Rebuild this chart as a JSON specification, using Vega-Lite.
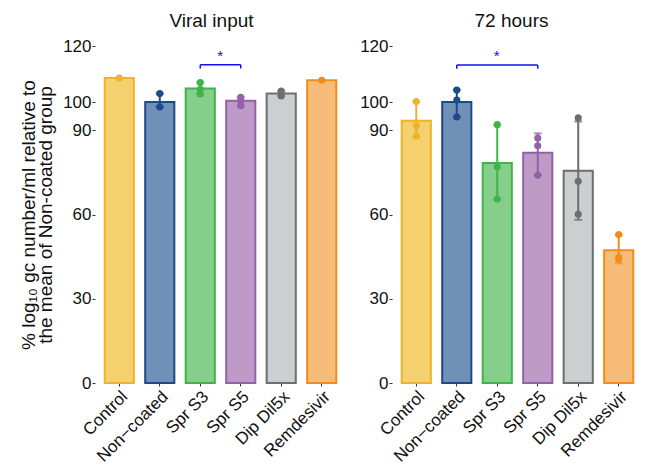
{
  "$schema": "https://vega.github.io/schema/vega-lite/v6.json",
  "background": "white",
  "padding": {"left": 19, "top": 12, "right": 0, "bottom": 0},
  "config": {
    "view": {"stroke": null},
    "font": "Liberation Sans",
    "concat": {"spacing": 13},
    "axis": {"grid": false, "domain": false, "tickColor": "#333333", "tickSize": 3, "labelColor": "#111111", "titleColor": "#111111"}
  },
  "datasets": {
    "bars": [
      {"panel": "Viral input", "group": "Control", "mean": 108.6, "lo": null, "hi": null},
      {"panel": "Viral input", "group": "Non−coated", "mean": 100.1, "lo": 98.3, "hi": 103.1},
      {"panel": "Viral input", "group": "Spr S3", "mean": 104.9, "lo": 102.9, "hi": 107.0},
      {"panel": "Viral input", "group": "Spr S5", "mean": 100.5, "lo": 98.7, "hi": 101.7},
      {"panel": "Viral input", "group": "Dip Dil5x", "mean": 103.1, "lo": 102.2, "hi": 104.0},
      {"panel": "Viral input", "group": "Remdesivir", "mean": 107.8, "lo": null, "hi": null},
      {"panel": "72 hours", "group": "Control", "mean": 93.4, "lo": 87.6, "hi": 100.2},
      {"panel": "72 hours", "group": "Non−coated", "mean": 100.1, "lo": 94.7, "hi": 104.4},
      {"panel": "72 hours", "group": "Spr S3", "mean": 78.3, "lo": 65.3, "hi": 92.0},
      {"panel": "72 hours", "group": "Spr S5", "mean": 82.0, "lo": 74.0, "hi": 88.9},
      {"panel": "72 hours", "group": "Dip Dil5x", "mean": 75.6, "lo": 58.1, "hi": 93.1},
      {"panel": "72 hours", "group": "Remdesivir", "mean": 47.3, "lo": 42.6, "hi": 52.6}
    ],
    "points": [
      {"panel": "Viral input", "group": "Control", "value": 108.6},
      {"panel": "Viral input", "group": "Non−coated", "value": 103.1},
      {"panel": "Viral input", "group": "Non−coated", "value": 98.3},
      {"panel": "Viral input", "group": "Spr S3", "value": 107.0},
      {"panel": "Viral input", "group": "Spr S3", "value": 104.6},
      {"panel": "Viral input", "group": "Spr S3", "value": 102.9},
      {"panel": "Viral input", "group": "Spr S5", "value": 101.7},
      {"panel": "Viral input", "group": "Spr S5", "value": 100.4},
      {"panel": "Viral input", "group": "Spr S5", "value": 98.7},
      {"panel": "Viral input", "group": "Dip Dil5x", "value": 104.0},
      {"panel": "Viral input", "group": "Dip Dil5x", "value": 102.2},
      {"panel": "Viral input", "group": "Remdesivir", "value": 107.8},
      {"panel": "72 hours", "group": "Control", "value": 100.2},
      {"panel": "72 hours", "group": "Control", "value": 91.6},
      {"panel": "72 hours", "group": "Control", "value": 87.9},
      {"panel": "72 hours", "group": "Non−coated", "value": 104.3},
      {"panel": "72 hours", "group": "Non−coated", "value": 100.8},
      {"panel": "72 hours", "group": "Non−coated", "value": 94.7},
      {"panel": "72 hours", "group": "Spr S3", "value": 92.0},
      {"panel": "72 hours", "group": "Spr S3", "value": 77.0},
      {"panel": "72 hours", "group": "Spr S3", "value": 65.5},
      {"panel": "72 hours", "group": "Spr S5", "value": 87.2},
      {"panel": "72 hours", "group": "Spr S5", "value": 84.5},
      {"panel": "72 hours", "group": "Spr S5", "value": 74.0},
      {"panel": "72 hours", "group": "Dip Dil5x", "value": 94.4},
      {"panel": "72 hours", "group": "Dip Dil5x", "value": 71.8},
      {"panel": "72 hours", "group": "Dip Dil5x", "value": 60.1},
      {"panel": "72 hours", "group": "Remdesivir", "value": 52.9},
      {"panel": "72 hours", "group": "Remdesivir", "value": 44.7},
      {"panel": "72 hours", "group": "Remdesivir", "value": 44.1}
    ],
    "sig": [
      {"panel": "Viral input", "from": "Spr S3", "to": "Spr S5", "y": 113.3, "ytick": 112.0, "ystar": 116.3, "label": "*"},
      {"panel": "72 hours", "from": "Non−coated", "to": "Spr S5", "y": 113.2, "ytick": 111.9, "ystar": 116.3, "label": "*"}
    ]
  },
  "hconcat": [
    {
      "width": 251, "height": 337,
      "title": {"text": "Viral input", "fontSize": 19, "fontWeight": "normal", "offset": 6, "dx": -9, "color": "#111111"},
      "layer": [
        {
          "data": {"name": "bars"},
          "transform": [{"filter": "datum.panel === 'Viral input'"}],
          "mark": {"type": "bar", "strokeWidth": 2},
          "encoding": {
            "x": {"field": "group", "type": "nominal", "title": null,
                  "scale": {"domain": ["Control", "Non−coated", "Spr S3", "Spr S5", "Dip Dil5x", "Remdesivir"], "paddingInner": 0.28, "paddingOuter": 0.24},
                  "axis": {"title": null, "labelAngle": -45, "labelAlign": "right", "labelBaseline": "top", "labelFontSize": 17, "labelPadding": 2}},
            "y": {"field": "mean", "type": "quantitative", "scale": {"domain": [0, 120], "nice": false},
                  "title": ["% log₁₀ gc number/ml relative to", "the mean of Non-coated group"],
                  "axis": {"values": [0, 30, 60, 90, 100, 120], "labelFontSize": 17, "labelPadding": 1, "titleFontSize": 19, "titleFontWeight": "normal", "titlePadding": 7, "titleLineHeight": 17}},
            "fill": {"field": "group", "type": "nominal", "legend": null,
                     "scale": {"domain": ["Control", "Non−coated", "Spr S3", "Spr S5", "Dip Dil5x", "Remdesivir"], "range": ["#F4D06F", "#7090B7", "#86CF8A", "#BD9BC6", "#CBCFCF", "#F8BC79"]}},
            "stroke": {"field": "group", "type": "nominal", "legend": null,
                       "scale": {"domain": ["Control", "Non−coated", "Spr S3", "Spr S5", "Dip Dil5x", "Remdesivir"], "range": ["#EFB22B", "#1D4A8A", "#3EB44A", "#9361A7", "#6B6F70", "#F38C1C"]}}
          }
        },
        {
          "data": {"name": "bars"},
          "transform": [{"filter": "datum.panel === 'Viral input' && datum.lo != null"}],
          "mark": {"type": "rule", "strokeWidth": 2},
          "encoding": {
            "x": {"field": "group", "type": "nominal", "title": null},
            "y": {"field": "lo", "type": "quantitative", "title": ["% log₁₀ gc number/ml relative to", "the mean of Non-coated group"]},
            "y2": {"field": "hi"},
            "color": {"field": "group", "type": "nominal", "legend": null,
                      "scale": {"domain": ["Control", "Non−coated", "Spr S3", "Spr S5", "Dip Dil5x", "Remdesivir"], "range": ["#EFB22B", "#1D4A8A", "#3EB44A", "#9361A7", "#6B6F70", "#F38C1C"]}}
          }
        },
        {
          "data": {"name": "bars"},
          "transform": [{"filter": "datum.panel === 'Viral input' && datum.lo != null"}, {"fold": ["lo", "hi"], "as": ["end", "cap"]}],
          "mark": {"type": "tick", "thickness": 2, "size": 8},
          "encoding": {
            "x": {"field": "group", "type": "nominal", "title": null},
            "y": {"field": "cap", "type": "quantitative", "title": ["% log₁₀ gc number/ml relative to", "the mean of Non-coated group"]},
            "color": {"field": "group", "type": "nominal", "legend": null,
                      "scale": {"domain": ["Control", "Non−coated", "Spr S3", "Spr S5", "Dip Dil5x", "Remdesivir"], "range": ["#EFB22B", "#1D4A8A", "#3EB44A", "#9361A7", "#6B6F70", "#F38C1C"]}}
          }
        },
        {
          "data": {"name": "points"},
          "transform": [{"filter": "datum.panel === 'Viral input'"}],
          "mark": {"type": "circle", "size": 50, "opacity": 1},
          "encoding": {
            "x": {"field": "group", "type": "nominal", "title": null},
            "y": {"field": "value", "type": "quantitative", "title": ["% log₁₀ gc number/ml relative to", "the mean of Non-coated group"]},
            "color": {"field": "group", "type": "nominal", "legend": null,
                      "scale": {"domain": ["Control", "Non−coated", "Spr S3", "Spr S5", "Dip Dil5x", "Remdesivir"], "range": ["#EFB22B", "#1D4A8A", "#3EB44A", "#9361A7", "#6B6F70", "#F38C1C"]}}
          }
        },
        {
          "data": {"name": "sig"},
          "transform": [{"filter": "datum.panel === 'Viral input'"}],
          "mark": {"type": "rule", "color": "#1010F0", "strokeWidth": 1.5},
          "encoding": {
            "x": {"field": "from", "type": "nominal", "title": null},
            "x2": {"field": "to"},
            "y": {"field": "y", "type": "quantitative", "title": ["% log₁₀ gc number/ml relative to", "the mean of Non-coated group"]}
          }
        },
        {
          "data": {"name": "sig"},
          "transform": [{"filter": "datum.panel === 'Viral input'"}, {"fold": ["from", "to"], "as": ["end", "grp"]}],
          "mark": {"type": "rule", "color": "#1010F0", "strokeWidth": 1.5},
          "encoding": {
            "x": {"field": "grp", "type": "nominal", "title": null},
            "y": {"field": "y", "type": "quantitative", "title": ["% log₁₀ gc number/ml relative to", "the mean of Non-coated group"]},
            "y2": {"field": "ytick"}
          }
        },
        {
          "data": {"name": "sig"},
          "transform": [{"filter": "datum.panel === 'Viral input'"}],
          "mark": {"type": "text", "color": "#1010F0", "fontSize": 15, "dx": 20, "baseline": "middle"},
          "encoding": {
            "x": {"field": "from", "type": "nominal", "title": null},
            "y": {"field": "ystar", "type": "quantitative", "title": ["% log₁₀ gc number/ml relative to", "the mean of Non-coated group"]},
            "text": {"field": "label"}
          }
        }
      ]
    },
    {
      "width": 251, "height": 337,
      "title": {"text": "72 hours", "fontSize": 19, "fontWeight": "normal", "offset": 6, "dx": -6, "color": "#111111"},
      "layer": [
        {
          "data": {"name": "bars"},
          "transform": [{"filter": "datum.panel === '72 hours'"}],
          "mark": {"type": "bar", "strokeWidth": 2},
          "encoding": {
            "x": {"field": "group", "type": "nominal", "title": null,
                  "scale": {"domain": ["Control", "Non−coated", "Spr S3", "Spr S5", "Dip Dil5x", "Remdesivir"], "paddingInner": 0.28, "paddingOuter": 0.24},
                  "axis": {"title": null, "labelAngle": -45, "labelAlign": "right", "labelBaseline": "top", "labelFontSize": 17, "labelPadding": 2}},
            "y": {"field": "mean", "type": "quantitative", "scale": {"domain": [0, 120], "nice": false}, "title": null,
                  "axis": {"values": [0, 30, 60, 90, 100, 120], "labelFontSize": 17, "labelPadding": 1, "title": null}},
            "fill": {"field": "group", "type": "nominal", "legend": null,
                     "scale": {"domain": ["Control", "Non−coated", "Spr S3", "Spr S5", "Dip Dil5x", "Remdesivir"], "range": ["#F4D06F", "#7090B7", "#86CF8A", "#BD9BC6", "#CBCFCF", "#F8BC79"]}},
            "stroke": {"field": "group", "type": "nominal", "legend": null,
                       "scale": {"domain": ["Control", "Non−coated", "Spr S3", "Spr S5", "Dip Dil5x", "Remdesivir"], "range": ["#EFB22B", "#1D4A8A", "#3EB44A", "#9361A7", "#6B6F70", "#F38C1C"]}}
          }
        },
        {
          "data": {"name": "bars"},
          "transform": [{"filter": "datum.panel === '72 hours' && datum.lo != null"}],
          "mark": {"type": "rule", "strokeWidth": 2},
          "encoding": {
            "x": {"field": "group", "type": "nominal", "title": null},
            "y": {"field": "lo", "type": "quantitative", "title": null},
            "y2": {"field": "hi"},
            "color": {"field": "group", "type": "nominal", "legend": null,
                      "scale": {"domain": ["Control", "Non−coated", "Spr S3", "Spr S5", "Dip Dil5x", "Remdesivir"], "range": ["#EFB22B", "#1D4A8A", "#3EB44A", "#9361A7", "#6B6F70", "#F38C1C"]}}
          }
        },
        {
          "data": {"name": "bars"},
          "transform": [{"filter": "datum.panel === '72 hours' && datum.lo != null"}, {"fold": ["lo", "hi"], "as": ["end", "cap"]}],
          "mark": {"type": "tick", "thickness": 2, "size": 8},
          "encoding": {
            "x": {"field": "group", "type": "nominal", "title": null},
            "y": {"field": "cap", "type": "quantitative", "title": null},
            "color": {"field": "group", "type": "nominal", "legend": null,
                      "scale": {"domain": ["Control", "Non−coated", "Spr S3", "Spr S5", "Dip Dil5x", "Remdesivir"], "range": ["#EFB22B", "#1D4A8A", "#3EB44A", "#9361A7", "#6B6F70", "#F38C1C"]}}
          }
        },
        {
          "data": {"name": "points"},
          "transform": [{"filter": "datum.panel === '72 hours'"}],
          "mark": {"type": "circle", "size": 50, "opacity": 1},
          "encoding": {
            "x": {"field": "group", "type": "nominal", "title": null},
            "y": {"field": "value", "type": "quantitative", "title": null},
            "color": {"field": "group", "type": "nominal", "legend": null,
                      "scale": {"domain": ["Control", "Non−coated", "Spr S3", "Spr S5", "Dip Dil5x", "Remdesivir"], "range": ["#EFB22B", "#1D4A8A", "#3EB44A", "#9361A7", "#6B6F70", "#F38C1C"]}}
          }
        },
        {
          "data": {"name": "sig"},
          "transform": [{"filter": "datum.panel === '72 hours'"}],
          "mark": {"type": "rule", "color": "#1010F0", "strokeWidth": 1.5},
          "encoding": {
            "x": {"field": "from", "type": "nominal", "title": null},
            "x2": {"field": "to"},
            "y": {"field": "y", "type": "quantitative", "title": null}
          }
        },
        {
          "data": {"name": "sig"},
          "transform": [{"filter": "datum.panel === '72 hours'"}, {"fold": ["from", "to"], "as": ["end", "grp"]}],
          "mark": {"type": "rule", "color": "#1010F0", "strokeWidth": 1.5},
          "encoding": {
            "x": {"field": "grp", "type": "nominal", "title": null},
            "y": {"field": "y", "type": "quantitative", "title": null},
            "y2": {"field": "ytick"}
          }
        },
        {
          "data": {"name": "sig"},
          "transform": [{"filter": "datum.panel === '72 hours'"}],
          "mark": {"type": "text", "color": "#1010F0", "fontSize": 15, "dx": 40, "baseline": "middle"},
          "encoding": {
            "x": {"field": "from", "type": "nominal", "title": null},
            "y": {"field": "ystar", "type": "quantitative", "title": null},
            "text": {"field": "label"}
          }
        }
      ]
    }
  ]
}
